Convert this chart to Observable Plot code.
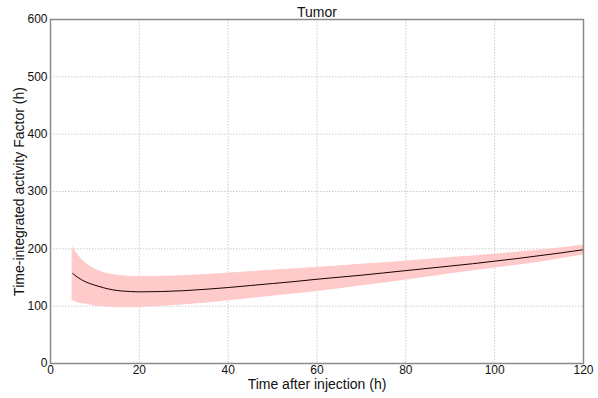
<!DOCTYPE html>
<html>
<head>
<meta charset="utf-8">
<script src="https://cdn.jsdelivr.net/npm/d3@7"></script>
<script src="https://cdn.jsdelivr.net/npm/@observablehq/plot@0.6"></script>
<style>
  body { margin: 0; background: #fff; }
  svg { font-family: "Liberation Sans", Arial, sans-serif; }
</style>
</head>
<body>
<div id="chart"></div>
<script>
const title = "Tumor";
const xLabel = "Time after injection (h)";
const yLabel = "Time-integrated activity Factor (h)";
const xTicks = [0, 20, 40, 60, 80, 100, 120];
const yTicks = [0, 100, 200, 300, 400, 500, 600];

const times = [5, 6, 7, 8, 9, 10, 12, 14, 16, 18, 20, 25, 30, 35, 40, 45, 50, 55, 60, 65, 70, 75, 80, 85, 90, 95, 100, 105, 110, 115, 120];
const meanValues = [157, 151, 146, 142, 139, 136.5, 132, 128.5, 126.5, 125.5, 125, 125.5, 127, 129.5, 132.5, 136, 139.5, 143, 147, 150.5, 154, 158, 162, 166, 170, 174, 178.5, 183, 188, 193, 198.5];
const upperValues = [202, 190, 181, 174, 168.5, 164, 158, 154.5, 152.5, 151.5, 151, 151.5, 152.5, 154.5, 157, 159.5, 162, 164.5, 167, 169.5, 172.5, 175, 178, 181, 184, 187, 190, 193.5, 197, 201, 206];
const lowerValues = [110, 107, 105, 104, 102.5, 101, 99.5, 98.5, 98, 98, 98.5, 100.5, 103, 106, 110, 114, 118, 122, 126, 131, 136, 141, 146, 151.5, 157, 162, 167, 172, 177, 183.5, 190];

const data = times.map((t, i) => ({t, mean: meanValues[i], lo: lowerValues[i], hi: upperValues[i]}));

const chart = Plot.plot({
  width: 598,
  height: 398,
  marginLeft: 50,
  marginRight: 15,
  marginTop: 19,
  marginBottom: 35,
  style: {fontSize: "12px", fontFamily: "Liberation Sans, Arial, sans-serif", color: "#000", background: "#fff"},
  x: {domain: [0, 120], ticks: xTicks, label: null},
  y: {domain: [0, 600], ticks: yTicks, label: null},
  marks: [
    Plot.gridX(xTicks, {stroke: "#cccccc", strokeOpacity: 1, strokeDasharray: "1.5,1.5"}),
    Plot.gridY(yTicks, {stroke: "#cccccc", strokeOpacity: 1, strokeDasharray: "1.5,1.5"}),
    Plot.areaY(data, {x: "t", y1: "lo", y2: "hi", fill: "#ffcaca", stroke: "#ffbcbc", strokeWidth: 0.5}),
    Plot.lineY(data, {x: "t", y: "mean", stroke: "#1a0000", strokeWidth: 1, curve: "monotone-x"}),
    Plot.frame({stroke: "#8a8a8a", strokeWidth: 1.5}),
    Plot.axisX(xTicks, {tickSize: 0, tickPadding: 2, fontSize: 12, fill: "#111"}),
    Plot.axisY(yTicks, {tickSize: 0, tickPadding: 3, fontSize: 12, fill: "#111"}),
    Plot.text([title], {frameAnchor: "top", lineAnchor: "middle", textAnchor: "middle", dy: -7, fontSize: 14, fill: "#111"}),
    Plot.text([xLabel], {frameAnchor: "bottom", lineAnchor: "middle", textAnchor: "middle", dy: 21, fontSize: 14, fill: "#111"}),
    Plot.text([yLabel], {frameAnchor: "left", lineAnchor: "middle", textAnchor: "middle", dx: -31, rotate: -90, fontSize: 14, fill: "#111"})
  ]
});
document.getElementById("chart").appendChild(chart);
</script>
</body>
</html>
